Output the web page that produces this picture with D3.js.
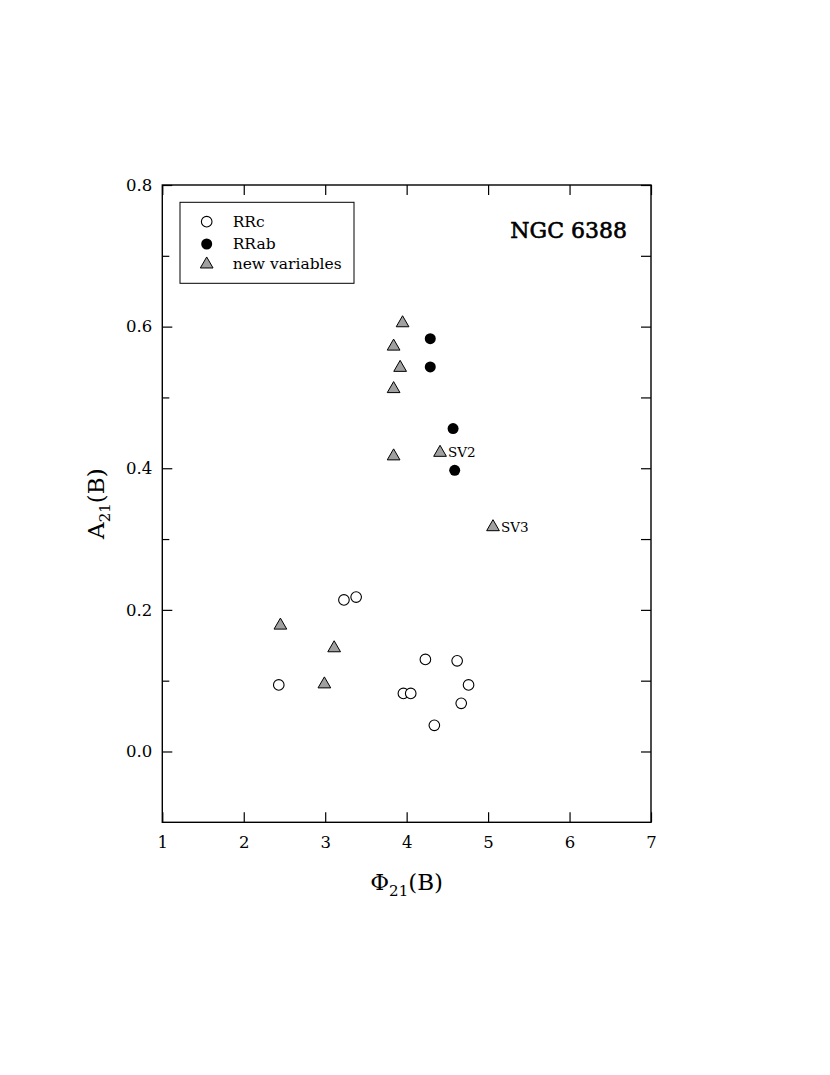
<!DOCTYPE html>
<html><head><meta charset="utf-8">
<script src="https://cdn.jsdelivr.net/npm/d3@7"></script>
<style>body{margin:0;background:#fff}svg{display:block}text{font-family:"DejaVu Serif",serif;fill:#000}</style>
</head><body><svg id="c" width="830" height="1075"></svg>
<script>
const rrcPhi = [2.43, 3.23, 3.38, 4.23, 4.62, 4.76, 4.67, 4.34, 3.96, 4.05];
const rrcA   = [0.094, 0.214, 0.218, 0.130, 0.128, 0.094, 0.068, 0.037, 0.082, 0.082];
const rrabPhi = [4.29, 4.29, 4.57, 4.59];
const rrabA   = [0.583, 0.543, 0.456, 0.397];
const newPhi = [3.95, 3.84, 3.92, 3.84, 3.84, 4.41, 5.06, 2.45, 3.11, 2.99];
const newA   = [0.605, 0.572, 0.542, 0.512, 0.417, 0.422, 0.317, 0.178, 0.146, 0.095];
const newLabels = ["", "", "", "", "", "SV2", "SV3", "", "", ""];
const xTicks = [1, 2, 3, 4, 5, 6, 7];
const yTicks = [0.0, 0.2, 0.4, 0.6, 0.8];
const yMinor = [0.1, 0.3, 0.5, 0.7];
const legendLabels = ["RRc", "RRab", "new variables"];
const title = "NGC 6388";

const svg = d3.select("#c");
const L = 162.3, R = 651, T = 185, B = 822.3;
const x = d3.scaleLinear().domain([1, 7]).range([L, R]);
const y = d3.scaleLinear().domain([-0.1, 0.8]).range([B, T]);

function styleAxis(g){ g.select(".domain").remove(); g.selectAll("line").attr("stroke","#000").attr("stroke-width",1.2); }

// frame
svg.append("rect").attr("x",L).attr("y",T).attr("width",R-L).attr("height",B-T)
  .attr("fill","none").attr("stroke","#000").attr("stroke-width",1.4);

// bottom axis
const gb = svg.append("g").attr("transform",`translate(0,${B})`)
  .call(d3.axisBottom(x).tickValues(xTicks).tickSize(-10).tickPadding(14).tickFormat(d3.format("d")));
styleAxis(gb); gb.attr("font-size",null).attr("font-family",null);
gb.selectAll("text").style("font-size","16.5px").style("font-family","DejaVu Serif").attr("fill","#000");
const gt = svg.append("g").attr("transform",`translate(0,${T})`)
  .call(d3.axisTop(x).tickValues(xTicks).tickSize(-10).tickFormat(""));
styleAxis(gt);
// left axis
const gl = svg.append("g").attr("transform",`translate(${L},0)`)
  .call(d3.axisLeft(y).tickValues(yTicks).tickSize(-10).tickPadding(10).tickFormat(d3.format(".1f")));
styleAxis(gl); gl.attr("font-size",null).attr("font-family",null);
gl.selectAll("text").style("font-size","16.5px").style("font-family","DejaVu Serif").attr("fill","#000");
const glm = svg.append("g").attr("transform",`translate(${L},0)`)
  .call(d3.axisLeft(y).tickValues(yMinor).tickSize(-7).tickFormat(""));
styleAxis(glm);
const gr = svg.append("g").attr("transform",`translate(${R},0)`)
  .call(d3.axisRight(y).tickValues(yTicks.concat(yMinor)).tickSize(-10).tickFormat(""));
styleAxis(gr);

// axis titles
const xt = svg.append("text").attr("x",(L+R)/2).attr("y",890).attr("text-anchor","middle").style("font-size","23px");
xt.append("tspan").text("Φ");
xt.append("tspan").style("font-size","15px").attr("dy",6).text("21");
xt.append("tspan").attr("dy",-6).text("(B)");
const yt = svg.append("text").attr("transform",`translate(104,${(T+B)/2}) rotate(-90)`).attr("text-anchor","middle").style("font-size","23px");
yt.append("tspan").text("A");
yt.append("tspan").style("font-size","15px").attr("dy",6).text("21");
yt.append("tspan").attr("dy",-6).text("(B)");

// title
svg.append("text").attr("x",627).attr("y",238).attr("text-anchor","end")
  .style("font-size","22px").attr("stroke","#000").attr("stroke-width",0.6).text(title);

const tri = d3.symbol().type(d3.symbolTriangle).size(70);

// data
const pts = svg.append("g");
pts.selectAll(".rrc").data(rrcPhi.map((p,i)=>[p,rrcA[i]])).join("circle")
  .attr("cx",d=>x(d[0])).attr("cy",d=>y(d[1])).attr("r",5.3)
  .attr("fill","#fff").attr("stroke","#000").attr("stroke-width",1.1);
pts.selectAll(".rrab").data(rrabPhi.map((p,i)=>[p,rrabA[i]])).join("circle")
  .attr("cx",d=>x(d[0])).attr("cy",d=>y(d[1])).attr("r",5.5).attr("fill","#000");
const nv = newPhi.map((p,i)=>[p,newA[i],newLabels[i]]);
pts.selectAll(".nv").data(nv).join("path")
  .attr("d",tri).attr("transform",d=>`translate(${x(d[0])},${y(d[1])})`)
  .attr("fill","#a0a0a0").attr("stroke","#000").attr("stroke-width",1);
pts.selectAll(".lab").data(nv.filter(d=>d[2])).join("text")
  .attr("x",d=>x(d[0])+8).attr("y",d=>y(d[1])+4.5).style("font-size","13.5px").text(d=>d[2]);

// legend
const lg = svg.append("g");
lg.append("rect").attr("x",180).attr("y",202.3).attr("width",174).attr("height",81)
  .attr("fill","#fff").attr("stroke","#000").attr("stroke-width",1);
const ly = [221.7, 244, 264.3];
lg.append("circle").attr("cx",206.7).attr("cy",ly[0]).attr("r",5.3).attr("fill","#fff").attr("stroke","#000").attr("stroke-width",1.1);
lg.append("circle").attr("cx",206.7).attr("cy",ly[1]).attr("r",5.5).attr("fill","#000");
lg.append("path").attr("d",tri).attr("transform",`translate(206.7,${ly[2]})`).attr("fill","#a0a0a0").attr("stroke","#000");
lg.selectAll(".lt").data(legendLabels).join("text").attr("x",232.7).attr("y",(d,i)=>ly[i]+5)
  .style("font-size","15.5px").text(d=>d);
</script></body></html>
